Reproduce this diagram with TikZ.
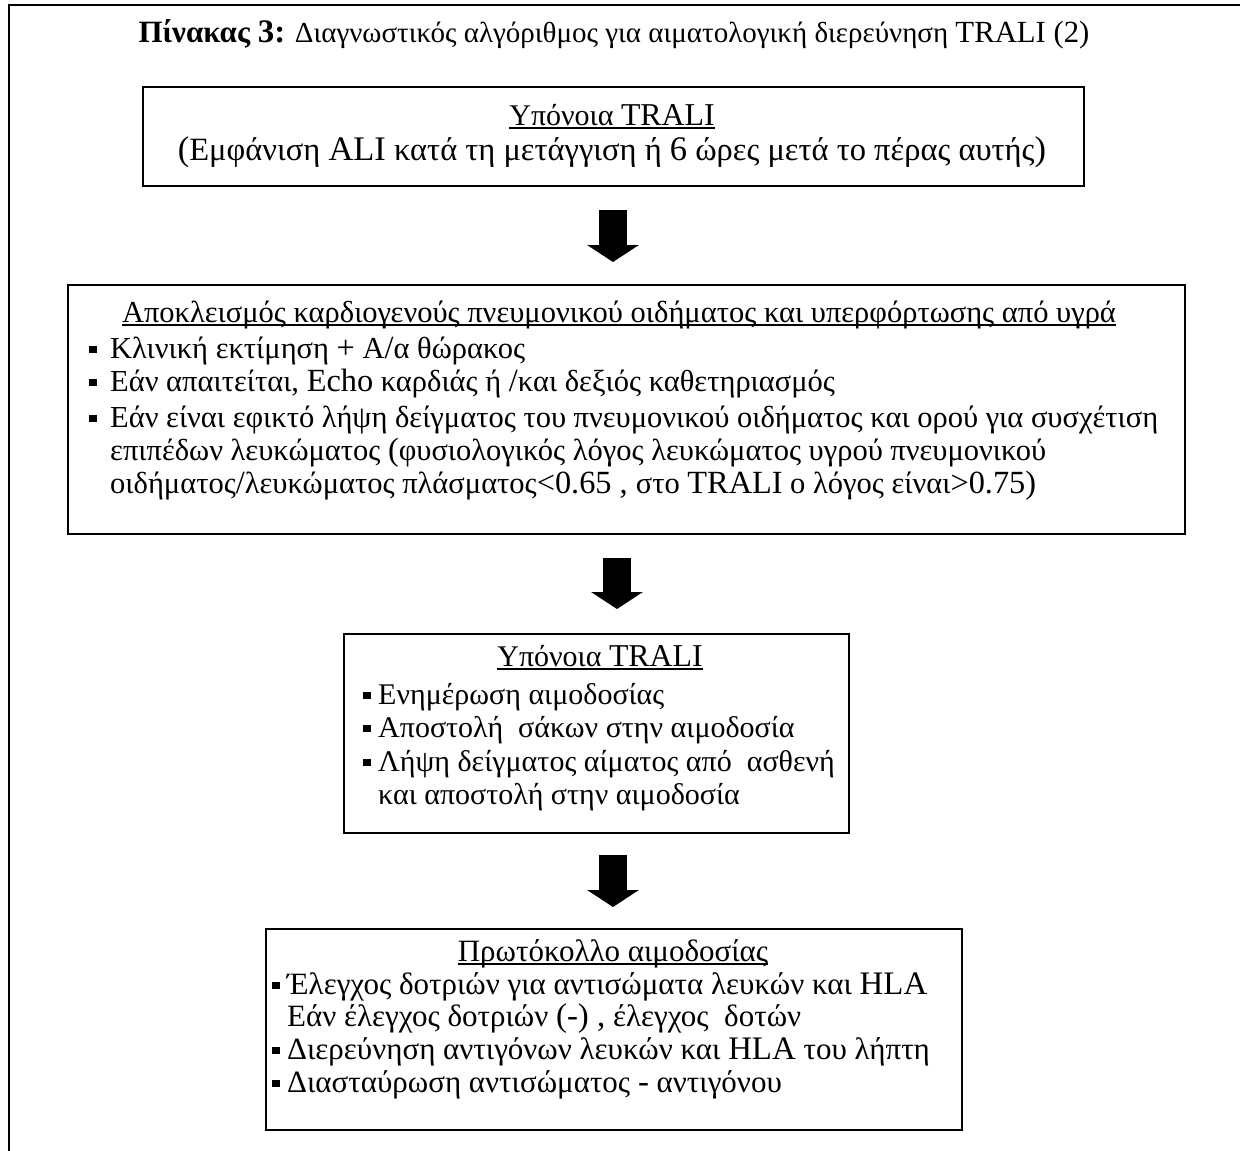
\documentclass[tikz,border=0pt]{standalone}
\usepackage{fontspec}
\setmainfont{Liberation Serif}
\usetikzlibrary{arrows.meta}
\newcommand\bul[1]{\makebox[#1][l]{\raisebox{5pt}{\rule{7.5pt}{7.5pt}}}}
\makeatletter
\newcommand\lt[1]{{\fontsize{\fpeval{\f@size*1.06}}{\f@baselineskip}\selectfont #1}}
\makeatother
\begin{document}
\begin{tikzpicture}[x=1pt,y=-1pt,
  every node/.style={inner sep=0pt,font=\fontsize{29}{33}\selectfont},
  fone/.style={font=\fontsize{32.5}{33}\selectfont},
  ftwo/.style={font=\fontsize{30.5}{33}\selectfont},
  fthree/.style={font=\fontsize{30}{33}\selectfont},
  ffour/.style={font=\fontsize{31}{33}\selectfont},
  boxn/.style={draw,line width=1.8pt,anchor=north west},
  ln/.style={anchor=base west},
  ttl/.style={anchor=base},
  uline/.style={line width=1.4pt},
  blk/.style={line width=28pt,-{Triangle[width=51pt,length=17pt]}}]
\useasboundingbox (0,0) rectangle (1240,1151);
\draw[line width=2.2pt] (9,1160) -- (9,5) -- (1250,5);
\node[ttl] (title) at (614,42) {{\fontsize{31}{33}\selectfont\bfseries Πίνακας \lt{3:}} Διαγνωστικός αλγόριθμος για αιματολογική διερεύνηση \lt{TRALI (2)}};
% box 1
\node[boxn,minimum width=941pt,minimum height=99pt] (b1) at (142,86) {};
\node[ttl,fthree] (b1t) at (612,125) {Υπόνοια \lt{TRALI}};
\draw[uline] ([yshift=-3pt]b1t.base west) -- ([yshift=-3pt]b1t.base east);
\node[ttl,fone] (b1a) at (612,160) {\lt{(}Εμφάνιση \lt{ALI} κατά τη μετάγγιση ή \lt{6} ώρες μετά το πέρας αυτής\lt{)}};
% box 2
\node[boxn,minimum width=1117pt,minimum height=249pt] (b2) at (67,284) {};
\node[ttl,ftwo] (b2t) at (619,322) {Αποκλεισμός καρδιογενούς πνευμονικού οιδήματος και υπερφόρτωσης από υγρά};
\draw[uline] ([yshift=-3pt]b2t.base west) -- ([yshift=-3pt]b2t.base east);
\node[ln,ftwo] (b2a) at (89,358) {\bul{21pt}Κλινική εκτίμηση \lt{+} Α\lt{/}α θώρακος};
\node[ln,ftwo] (b2b) at (89,391) {\bul{21pt}Εάν απαιτείται, \lt{Echo} καρδιάς ή \lt{/}και δεξιός καθετηριασμός};
\node[ln,ftwo] (b2c) at (89,427) {\bul{21pt}Εάν είναι εφικτό λήψη δείγματος του πνευμονικού οιδήματος και ορού για συσχέτιση};
\node[ln,ftwo] (b2d) at (110,460) {επιπέδων λευκώματος \lt{(}φυσιολογικός λόγος λευκώματος υγρού πνευμονικού};
\node[ln,ftwo] (b2e) at (110,493) {οιδήματος\lt{/}λευκώματος πλάσματος\lt{<0.65 , }στο \lt{TRALI} ο λόγος είναι\lt{>0.75)}};
% box 3
\node[boxn,minimum width=505pt,minimum height=199pt] (b3) at (343,633) {};
\node[ttl,fthree] (b3t) at (600,666) {Υπόνοια \lt{TRALI}};
\draw[uline] ([yshift=-3pt]b3t.base west) -- ([yshift=-3pt]b3t.base east);
\node[ln,fthree] (b3a) at (363,704) {\bul{15pt}Ενημέρωση αιμοδοσίας};
\node[ln,fthree] (b3b) at (363,737) {\bul{15pt}Αποστολή\ \ σάκων στην αιμοδοσία};
\node[ln,fthree] (b3c) at (363,771) {\bul{15pt}Λήψη δείγματος αίματος από\ \ ασθενή};
\node[ln,fthree] (b3d) at (378,804) {και αποστολή στην αιμοδοσία};
% box 4
\node[boxn,minimum width=696pt,minimum height=201pt] (b4) at (265,928) {};
\node[ttl,ffour] (b4t) at (613,961) {Πρωτόκολλο αιμοδοσίας};
\draw[uline] ([yshift=-3pt]b4t.base west) -- ([yshift=-3pt]b4t.base east);
\node[ln,ffour] (b4a) at (272,994) {\bul{15pt}Έλεγχος δοτριών για αντισώματα λευκών και \lt{HLA}};
\node[ln,ffour] (b4b) at (287,1026) {Εάν έλεγχος δοτριών \lt{(-) ,} έλεγχος\ \ δοτών};
\node[ln,ffour] (b4c) at (272,1059) {\bul{15pt}Διερεύνηση αντιγόνων λευκών και \lt{HLA} του λήπτη};
\node[ln,ffour] (b4d) at (272,1092) {\bul{15pt}Διασταύρωση αντισώματος \lt{-} αντιγόνου};
% arrows
\coordinate (a1s) at (613,210);
\coordinate (a1e) at (613,262);
\coordinate (a2s) at (617,558);
\coordinate (a2e) at (617,609);
\coordinate (a3s) at (613,855);
\coordinate (a3e) at (613,907);
\draw[blk] (a1s) -- (a1e);
\draw[blk] (a2s) -- (a2e);
\draw[blk] (a3s) -- (a3e);
\end{tikzpicture}
\end{document}
